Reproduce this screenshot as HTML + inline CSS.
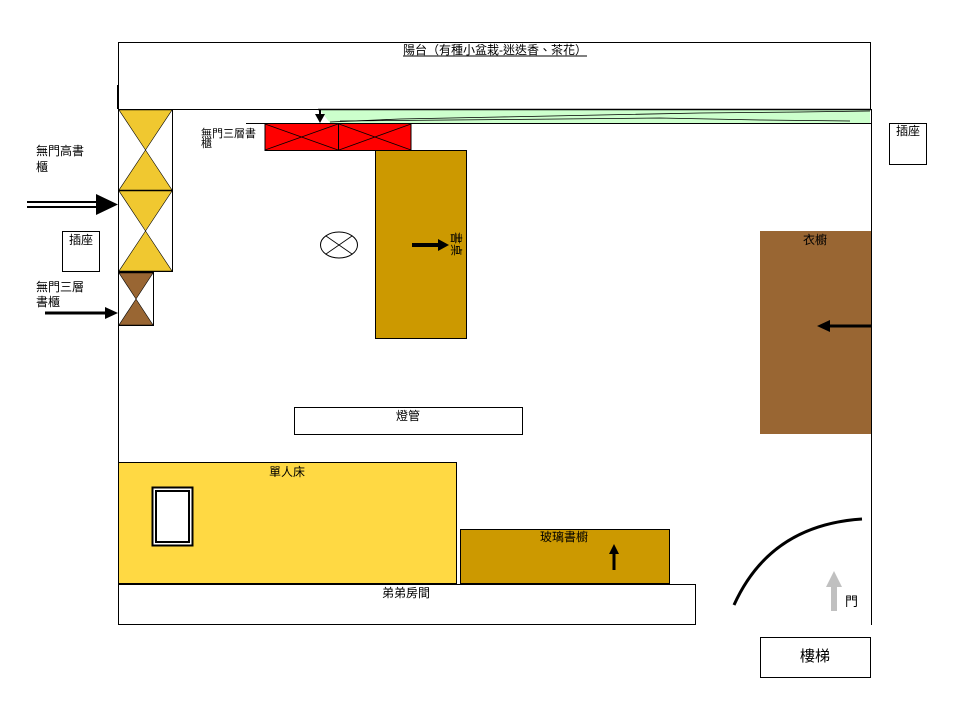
<!DOCTYPE html>
<html><head><meta charset="utf-8"><style>
html,body{margin:0;padding:0;background:#fff;width:960px;height:720px;overflow:hidden}
svg{display:block}
text{font-family:"Liberation Sans","Noto Sans CJK TC",sans-serif;fill:#000}
</style></head><body>
<svg width="960" height="720" viewBox="0 0 960 720" xmlns="http://www.w3.org/2000/svg">
<!-- balcony -->
<rect x="118.5" y="42.5" width="752" height="67" fill="#fff" stroke="#000"/>
<line x1="118" y1="85" x2="118" y2="109" stroke="#000" stroke-width="2"/>
<text x="495" y="54" font-size="12" text-anchor="middle">陽台（有種小盆栽-迷迭香、茶花）</text>
<line x1="403" y1="56" x2="587" y2="56" stroke="#000"/>
<!-- green strip -->
<polygon points="320,110 870,110 870,123 330,123" fill="#ccffcc"/>
<line x1="318" y1="109.5" x2="871" y2="109.5" stroke="#000" stroke-width="1.5"/>
<line x1="246" y1="123.5" x2="871" y2="123.5" stroke="#000"/>
<polyline points="330,122 400,119 500,117 600,115 700,113 800,112 870,111" fill="none" stroke="#000" stroke-width="0.8"/>
<polyline points="340,121 450,120 560,119 660,118 760,120 850,121" fill="none" stroke="#000" stroke-width="0.8"/>
<line x1="320" y1="110" x2="320" y2="116" stroke="#000" stroke-width="2"/>
<polygon points="315,114 325,114 320,123" fill="#000"/>
<!-- room walls -->
<line x1="118.5" y1="109" x2="118.5" y2="625" stroke="#000"/>
<line x1="871.5" y1="109" x2="871.5" y2="625" stroke="#000"/>
<!-- red cabinets -->
<rect x="265" y="123.5" width="146" height="27" fill="#ff0000" stroke="#000"/>
<line x1="338.5" y1="123" x2="338.5" y2="150" stroke="#000"/>
<line x1="265" y1="124" x2="338" y2="150" stroke="#000" stroke-width="0.8"/>
<line x1="265" y1="150" x2="338" y2="124" stroke="#000" stroke-width="0.8"/>
<line x1="339" y1="124" x2="411" y2="150" stroke="#000" stroke-width="0.8"/>
<line x1="339" y1="150" x2="411" y2="124" stroke="#000" stroke-width="0.8"/>
<text x="201" y="137" font-size="11">無門三層書</text>
<text x="201" y="147" font-size="11">櫃</text>
<!-- tall yellow bookcases -->
<g stroke="#000" stroke-width="1">
<rect x="118.5" y="109.5" width="54" height="81" fill="#fff"/>
<polygon points="119,110 172,110 145.5,150" fill="#f0c830" stroke-width="0.6"/>
<polygon points="119,190 172,190 145.5,150" fill="#f0c830" stroke-width="0.6"/>
<rect x="118.5" y="190.5" width="54" height="81" fill="#fff"/>
<polygon points="119,191 172,191 145.5,231" fill="#f0c830" stroke-width="0.6"/>
<polygon points="119,271 172,271 145.5,231" fill="#f0c830" stroke-width="0.6"/>
<rect x="118.5" y="272.5" width="35" height="53" fill="#fff"/>
<polygon points="119,273 153,273 136,299" fill="#996633" stroke-width="0.6"/>
<polygon points="119,325 153,325 136,299" fill="#996633" stroke-width="0.6"/>
</g>
<text x="36" y="155" font-size="12">無門高書</text>
<text x="36" y="171" font-size="12">櫃</text>
<line x1="27" y1="202" x2="98" y2="202" stroke="#000" stroke-width="2"/>
<line x1="27" y1="207" x2="98" y2="207" stroke="#000" stroke-width="2"/>
<polygon points="96,194 118,204.5 96,215" fill="#000"/>
<rect x="62.5" y="231.5" width="37" height="40" fill="#fff" stroke="#000"/>
<text x="69" y="244" font-size="12">插座</text>
<text x="36" y="291" font-size="12">無門三層</text>
<text x="36" y="306" font-size="12">書櫃</text>
<line x1="45" y1="313" x2="106" y2="313" stroke="#000" stroke-width="3"/>
<polygon points="105,307 118,313 105,319" fill="#000"/>
<!-- desk -->
<rect x="375.5" y="150.5" width="91" height="188" fill="#cc9900" stroke="#000"/>
<line x1="412" y1="245" x2="440" y2="245" stroke="#000" stroke-width="4"/>
<polygon points="438,239 449,245 438,251" fill="#000"/>
<text x="0" y="0" font-size="12" transform="translate(452,232) rotate(90)">書桌</text>
<ellipse cx="339" cy="245" rx="18.5" ry="13" fill="#fff" stroke="#000"/>
<line x1="326" y1="236" x2="352" y2="254" stroke="#000" stroke-width="0.8"/>
<line x1="326" y1="254" x2="352" y2="236" stroke="#000" stroke-width="0.8"/>
<!-- wardrobe -->
<rect x="760" y="231" width="111" height="203" fill="#996633"/>
<text x="815" y="244" font-size="12" text-anchor="middle">衣櫥</text>
<line x1="829" y1="326" x2="871" y2="326" stroke="#000" stroke-width="3"/>
<polygon points="830,320 817,326 830,332" fill="#000"/>
<rect x="889.5" y="123.5" width="37" height="41" fill="#fff" stroke="#000"/>
<text x="896" y="135" font-size="12">插座</text>
<!-- lamp tube -->
<rect x="294.5" y="407.5" width="228" height="27" fill="#fff" stroke="#000"/>
<text x="408" y="420" font-size="12" text-anchor="middle">燈管</text>
<!-- bed -->
<rect x="118.5" y="462.5" width="338" height="121" fill="#ffd943" stroke="#000"/>
<text x="287" y="476" font-size="12" text-anchor="middle">單人床</text>
<rect x="152.5" y="487.5" width="40" height="58" fill="#fff" stroke="#000" stroke-width="2"/>
<rect x="156" y="491" width="33" height="51" fill="#fff" stroke="#000" stroke-width="2"/>
<!-- glass cabinet -->
<rect x="460.5" y="529.5" width="209" height="54" fill="#cc9900" stroke="#000"/>
<text x="564" y="541" font-size="12" text-anchor="middle">玻璃書櫥</text>
<line x1="614" y1="552" x2="614" y2="570" stroke="#000" stroke-width="3"/>
<polygon points="609,554 614,544 619,554" fill="#000"/>
<line x1="118" y1="584" x2="456" y2="584" stroke="#000" stroke-width="2"/>
<!-- brother room -->
<rect x="118.5" y="584.5" width="577" height="40" fill="#fff" stroke="#000"/>
<text x="406" y="597" font-size="12" text-anchor="middle">弟弟房間</text>
<!-- door -->
<path d="M734,605 Q770,525 862,519" fill="none" stroke="#000" stroke-width="3"/>
<line x1="834" y1="584" x2="834" y2="611" stroke="#c0c0c0" stroke-width="6"/>
<polygon points="826,587 834,571 842,587" fill="#c0c0c0"/>
<text x="845" y="606" font-size="13">門</text>
<!-- stairs -->
<rect x="760.5" y="637.5" width="110" height="40" fill="#fff" stroke="#000"/>
<text x="815" y="661" font-size="15" text-anchor="middle">樓梯</text>
</svg>
</body></html>
